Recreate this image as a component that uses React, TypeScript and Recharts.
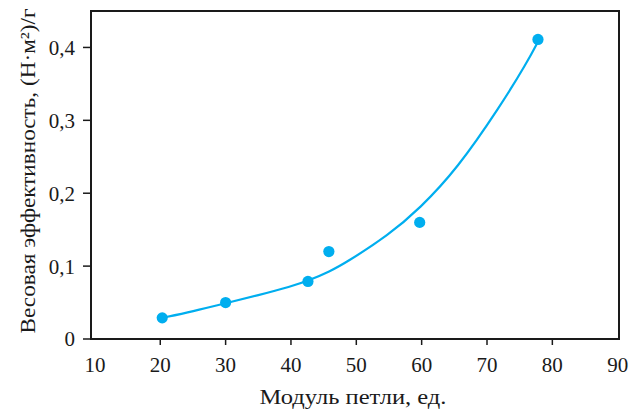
import React from "react";
import {
  ComposedChart,
  Line,
  Scatter,
  XAxis,
  YAxis,
  ReferenceArea,
  Label,
} from "recharts";

// ─── Data ─────────────────────────────────────────────────────────────────────

const pointX = [20.3, 30.0, 42.6, 45.8, 59.7, 77.8];
const pointY = [0.029, 0.05, 0.079, 0.12, 0.16, 0.411];

// fitted curve
const curveX = [20.3, 25, 30, 35, 40, 42.7, 46, 48.3, 55, 59.7, 65.4, 72, 76.1, 77.8];
const curveY = [0.029, 0.038, 0.049, 0.06, 0.072, 0.08, 0.093, 0.104, 0.143, 0.179, 0.233, 0.319, 0.379, 0.408];

const xTicks = [10, 20, 30, 40, 50, 60, 70, 80, 90];
const yTicks = [0, 0.1, 0.2, 0.3, 0.4];

const xTitle = "Модуль петли, ед.";
const yTitle = "Весовая эффективность, (Н·м²)/г";

const points = pointX.map((x, i) => ({ x, y: pointY[i] }));
const curve = curveX.map((x, i) => ({ x, y: curveY[i] }));

// ─── Style ────────────────────────────────────────────────────────────────────

const BLUE = "#00aeef";
const INK = "#1a1a1a";
const FONT = '"Liberation Serif", "Times New Roman", serif';
const textStyle = { fontFamily: FONT, fontSize: 21 };
const X_DOMAIN = [9.4, 90.2];

const fmtY = (v: number) => (v === 0 ? "0" : v.toFixed(1).replace(".", ","));

const Dot = (props: any) => {
  const { cx, cy } = props;
  if (cx == null || cy == null) return null;
  return <circle cx={cx} cy={cy} r={5.6} fill={BLUE} />;
};

// tick marks drawn here so the end labels (10, 90) sit on the frame without a mark
const XTick = ({ x, y, payload }: any) => {
  const edge = payload.value === 10 || payload.value === 90;
  return (
    <g>
      {!edge && (
        <line x1={x} x2={x} y1={y - 18} y2={y - 12} stroke={INK} strokeWidth={1.5} />
      )}
      <text x={x} y={y} dy="0.71em" textAnchor="middle" fill={INK} style={textStyle}>
        {payload.value}
      </text>
    </g>
  );
};

const YTick = ({ x, y, payload }: any) => (
  <text x={x} y={y} dy="0.355em" textAnchor="end" fill={INK} style={textStyle}>
    {fmtY(payload.value)}
  </text>
);

const XTitle = ({ viewBox }: any) => (
  <text
    x={viewBox.x + viewBox.width / 2 - 2}
    y={viewBox.y + viewBox.height - 6}
    textAnchor="middle"
    fill={INK}
    style={textStyle}
    textLength={187}
    lengthAdjust="spacingAndGlyphs"
  >
    {xTitle}
  </text>
);

const YTitle = ({ viewBox }: any) => {
  const cx = viewBox.x + 28;
  const cy = 171;
  return (
    <text
      x={cx}
      y={cy}
      dy="0.35em"
      textAnchor="middle"
      fill={INK}
      style={textStyle}
      textLength={325}
      lengthAdjust="spacingAndGlyphs"
      transform={`rotate(-90, ${cx}, ${cy})`}
    >
      {yTitle}
    </text>
  );
};

// ─── Component ────────────────────────────────────────────────────────────────

export default function App() {
  return (
    <div
      style={{
        position: "absolute",
        left: 0,
        top: 0,
        width: 630,
        height: 410,
        background: "#fff",
        fontFamily: FONT,
      }}
    >
      <ComposedChart
        width={630}
        height={410}
        margin={{ top: 11, right: 11, left: 0, bottom: 0 }}
      >
        <XAxis
          type="number"
          dataKey="x"
          domain={X_DOMAIN}
          ticks={xTicks}
          allowDataOverflow
          height={71}
          tick={XTick}
          tickLine={false}
          tickSize={6}
          tickMargin={12}
          axisLine={{ stroke: INK, strokeWidth: 2 }}
        >
          <Label content={XTitle} />
        </XAxis>
        <YAxis
          type="number"
          dataKey="y"
          domain={[0, 0.45]}
          ticks={yTicks}
          allowDataOverflow
          width={91}
          tick={YTick}
          tickSize={8}
          tickMargin={8}
          axisLine={{ stroke: INK, strokeWidth: 2 }}
          tickLine={{ stroke: INK, strokeWidth: 1.5 }}
        >
          <Label content={YTitle} />
        </YAxis>

        <ReferenceArea
          x1={X_DOMAIN[0]}
          x2={X_DOMAIN[1]}
          y1={0}
          y2={0.45}
          fill="none"
          fillOpacity={0}
          stroke={INK}
          strokeWidth={2}
          ifOverflow="visible"
        />

        <Line
          data={curve}
          dataKey="y"
          type="basis"
          stroke={BLUE}
          strokeWidth={2.2}
          dot={false}
          activeDot={false}
          isAnimationActive={false}
        />
        <Scatter
          data={points}
          dataKey="y"
          fill={BLUE}
          shape={Dot}
          isAnimationActive={false}
        />
      </ComposedChart>
    </div>
  );
}
